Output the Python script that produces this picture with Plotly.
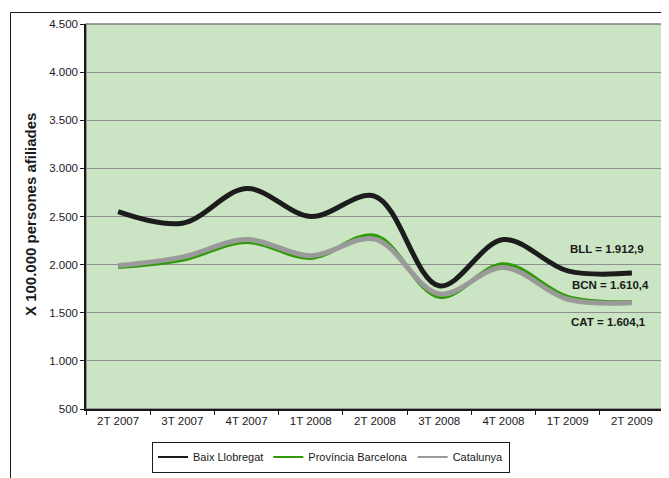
import plotly.graph_objects as go

categories = ["2T 2007", "3T 2007", "4T 2007", "1T 2008", "2T 2008",
              "3T 2008", "4T 2008", "1T 2009", "2T 2009"]
baix_llobregat = [2550, 2430, 2790, 2500, 2710, 1780, 2260, 1935, 1912.9]
provincia_barcelona = [1975, 2050, 2235, 2070, 2300, 1665, 2005, 1665, 1610.4]
catalunya = [1990, 2078, 2260, 2092, 2265, 1695, 1970, 1640, 1604.1]

y_tickvals = [500, 1000, 1500, 2000, 2500, 3000, 3500, 4000, 4500]
y_ticktext = ["500", "1.000", "1.500", "2.000", "2.500", "3.000", "3.500", "4.000", "4.500"]

series_names = ["Baix Llobregat", "Província Barcelona", "Catalunya"]
series_tags = ["BLL", "BCN", "CAT"]


def fmt(v):
    s = f"{v:,.1f}"
    return s.replace(",", "X").replace(".", ",").replace("X", ".")


FONT = "Liberation Sans, Arial, sans-serif"
colors = ["#1c1c1c", "#2e9a05", "#9a9a9a"]
widths = [5, 4, 5]
data = [baix_llobregat, provincia_barcelona, catalunya]

fig = go.Figure()
for name, vals, c, w in zip(series_names, data, colors, widths):
    fig.add_trace(go.Scatter(x=categories, y=vals, mode="lines", name=name,
                             line=dict(color=c, width=w, shape="spline", smoothing=1),
                             showlegend=False, hoverinfo="skip"))
# legend entries with thin sample lines
for name, c in zip(series_names, colors):
    fig.add_trace(go.Scatter(x=[None], y=[None], mode="lines", name=name,
                             line=dict(color=c, width=2), showlegend=True))

OFF = 8  # page body margin
W, H = 669 - OFF, 478 - OFF
L, R, T, B = 86 - OFF, 5, 24 - OFF, 69
pw, ph = W - L - R, H - T - B

def px_x(x):
    return (x - OFF - L) / pw

def px_y(y):
    return (H - B - (y - OFF)) / ph

# outer chart frame (partially cropped)
fig.add_shape(type="rect", xref="paper", yref="paper",
              x0=px_x(10.5), x1=px_x(700), y0=px_y(600), y1=px_y(12.5),
              line=dict(color="#1a1a1a", width=1), fillcolor="rgba(0,0,0,0)", layer="below")
# plot area border
fig.add_shape(type="rect", xref="paper", yref="paper", x0=0, x1=1, y0=0, y1=1,
              line=dict(color="#7f7f7f", width=1.5), fillcolor="rgba(0,0,0,0)", layer="below")

label_pos = [(607, 249), (610, 285), (608, 322)]
for tag, vals, (lx, ly) in zip(series_tags, data, label_pos):
    fig.add_annotation(xref="paper", yref="paper", x=px_x(lx), y=px_y(ly),
                       text=f"<b>{tag} = {fmt(vals[-1])}</b>", showarrow=False,
                       xanchor="center", yanchor="middle",
                       font=dict(family=FONT, size=11.5, color="#1a1a1a"))

fig.add_annotation(xref="paper", yref="paper", x=px_x(30), y=px_y(215),
                   text="<b>X 100.000 persones afiliades</b>", textangle=-90,
                   showarrow=False, xanchor="center", yanchor="middle",
                   font=dict(family=FONT, size=15, color="#1a1a1a"))

fig.update_layout(
    width=W, height=H,
    margin=dict(l=L, r=R, t=T, b=B),
    paper_bgcolor="white",
    plot_bgcolor="#cbe4c3",
    font=dict(family=FONT, size=11.5, color="#1a1a1a"),
    showlegend=True,
    legend=dict(orientation="h", x=px_x(331), y=px_y(457), xanchor="center", yanchor="middle",
                bordercolor="#1a1a1a", borderwidth=1, bgcolor="white",
                font=dict(family=FONT, size=11, color="#1a1a1a"),
                itemwidth=30, tracegroupgap=0),
)
fig.update_xaxes(type="category", range=[-0.5, 8.5], showgrid=False,
                 showline=True, linecolor="#1a1a1a", linewidth=1.5,
                 ticks="outside", tickson="boundaries", ticklen=4, tickcolor="#1a1a1a",
                 tickfont=dict(family=FONT, size=11.5, color="#1a1a1a"), zeroline=False,
                 fixedrange=True)
fig.update_yaxes(range=[500, 4500], tickvals=y_tickvals, ticktext=y_ticktext,
                 showgrid=True, gridcolor="#8f8f8f", gridwidth=1,
                 showline=True, linecolor="#1a1a1a", linewidth=1.5,
                 ticks="outside", ticklen=4, tickcolor="#1a1a1a",
                 tickfont=dict(family=FONT, size=11.5, color="#1a1a1a"), zeroline=False,
                 fixedrange=True)

fig.write_html("out.html")
